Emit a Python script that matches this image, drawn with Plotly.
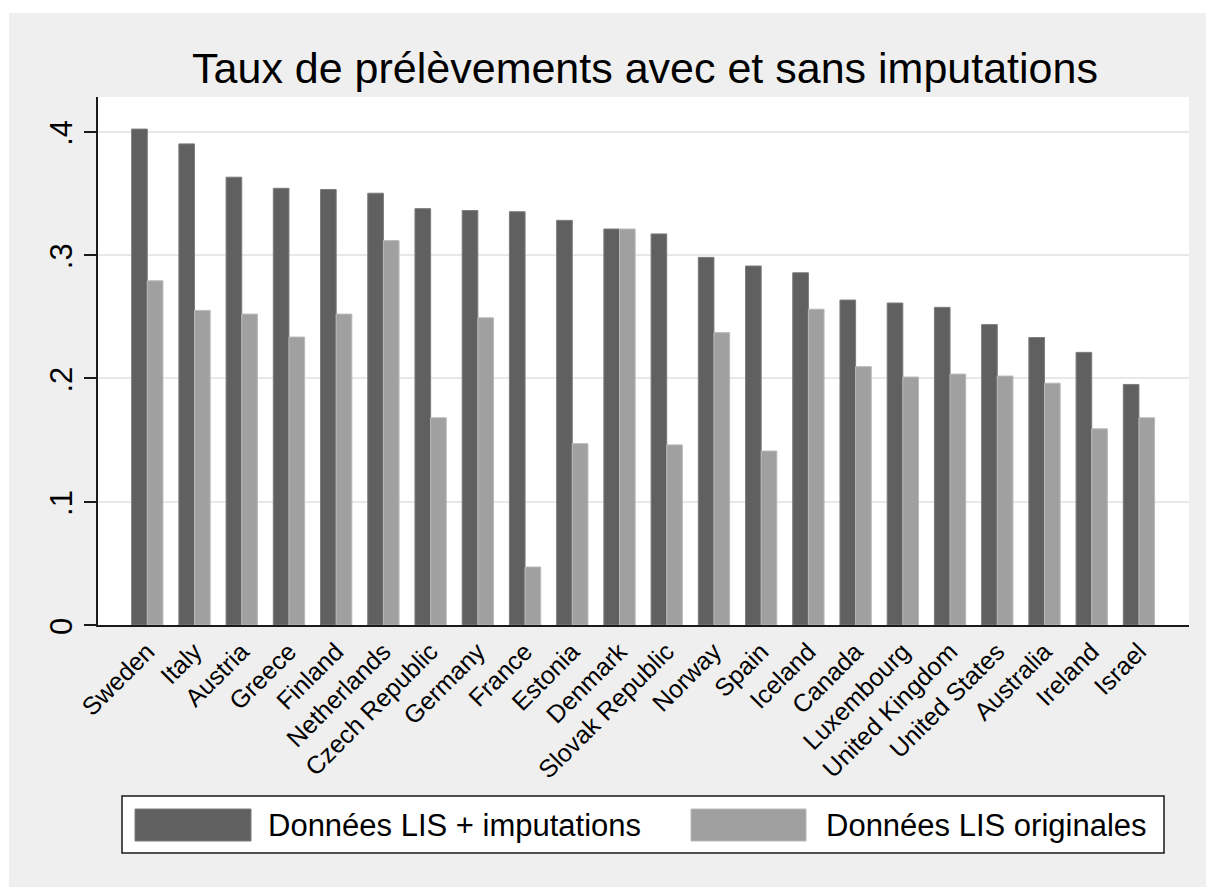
import plotly.graph_objects as go

# Tax rates by country, with and without imputations
countries = ["Sweden", "Italy", "Austria", "Greece", "Finland", "Netherlands",
             "Czech Republic", "Germany", "France", "Estonia", "Denmark",
             "Slovak Republic", "Norway", "Spain", "Iceland", "Canada",
             "Luxembourg", "United Kingdom", "United States", "Australia",
             "Ireland", "Israel"]
with_imputations = [0.402, 0.390, 0.363, 0.354, 0.353, 0.350, 0.3375, 0.336,
                    0.335, 0.328, 0.321, 0.317, 0.298, 0.291, 0.2855, 0.2634,
                    0.261, 0.2575, 0.2435, 0.233, 0.221, 0.195]
original = [0.279, 0.255, 0.252, 0.2334, 0.252, 0.3116, 0.168, 0.249, 0.047,
            0.147, 0.321, 0.146, 0.237, 0.141, 0.256, 0.2094, 0.201, 0.2034,
            0.2018, 0.196, 0.159, 0.168]
series_names = ["Données LIS + imputations", "Données LIS originales"]
y_ticks = [0, 0.1, 0.2, 0.3, 0.4]
y_tick_labels = ["0", ".1", ".2", ".3", ".4"]
title_text = "Taux de prélèvements avec et sans imputations"

DARK = "#606060"
LIGHT = "#a0a0a0"
BG = "#efefef"
FONT = "Liberation Sans, Arial, sans-serif"

W, H = 1206, 887
L, R, T, B = 98, 17, 97, 262
PW, PH = W - L - R, H - T - B


def px_x(px):
    return (px - L) / PW


def px_y(py):
    return (H - B - py) / PH


fig = go.Figure()
fig.add_trace(go.Bar(x=countries, y=with_imputations, name=series_names[0],
                     marker=dict(color=DARK, line=dict(color="#7c7c7c", width=1))))
fig.add_trace(go.Bar(x=countries, y=original, name=series_names[1],
                     marker=dict(color=LIGHT, line=dict(color="#b9b9b9", width=1))))

shapes = [
    # white page edge around the graph region
    dict(type="rect", xref="paper", yref="paper", layer="below",
         x0=px_x(0), x1=px_x(9), y0=px_y(H), y1=px_y(0),
         fillcolor="white", line=dict(width=0)),
    dict(type="rect", xref="paper", yref="paper", layer="below",
         x0=px_x(0), x1=px_x(W), y0=px_y(13), y1=px_y(0),
         fillcolor="white", line=dict(width=0)),
    # legend box
    dict(type="rect", xref="paper", yref="paper",
         x0=px_x(122), x1=px_x(1164), y0=px_y(853), y1=px_y(796),
         fillcolor="white", line=dict(color="#1a1a1a", width=1.5)),
    dict(type="rect", xref="paper", yref="paper",
         x0=px_x(135), x1=px_x(251), y0=px_y(841), y1=px_y(809),
         fillcolor=DARK, line=dict(color="#7c7c7c", width=1)),
    dict(type="rect", xref="paper", yref="paper",
         x0=px_x(691), x1=px_x(806), y0=px_y(841), y1=px_y(809),
         fillcolor=LIGHT, line=dict(color="#b9b9b9", width=1)),
]

annotations = [
    dict(xref="paper", yref="paper", x=px_x(266), y=px_y(825),
         xanchor="left", yanchor="middle", showarrow=False,
         text=series_names[0], font=dict(family=FONT, size=31, color="black")),
    dict(xref="paper", yref="paper", x=px_x(824), y=px_y(825),
         xanchor="left", yanchor="middle", showarrow=False,
         text=series_names[1], font=dict(family=FONT, size=31, color="black")),
]

fig.update_layout(
    width=W, height=H,
    margin=dict(l=L, r=R, t=T, b=B),
    paper_bgcolor=BG, plot_bgcolor="white",
    barmode="group", bargap=0.337, bargroupgap=0,
    showlegend=False,
    title=dict(text=title_text, x=(645) / W, xanchor="center",
               y=1 - 68 / H, yanchor="middle", yref="container",
               font=dict(family=FONT, size=43, color="black")),
    shapes=shapes,
    annotations=annotations,
    font=dict(family=FONT, color="black"),
)
fig.update_xaxes(
    range=[-1.044, 22.06], tickangle=-45, showgrid=False,
    showline=True, linecolor="#1a1a1a", linewidth=2, ticks="",
    tickfont=dict(family=FONT, size=25, color="black"),
)
fig.update_yaxes(
    range=[0, 0.428], tickvals=y_ticks, ticktext=y_tick_labels,
    tickangle=-90, ticklabelshift=6, showgrid=True, gridcolor="#e8e8e8",
    gridwidth=2, zeroline=False, showline=True, linecolor="#1a1a1a",
    linewidth=2, ticks="outside", ticklen=12, tickwidth=1.5,
    tickcolor="#1a1a1a",
    tickfont=dict(family=FONT, size=31, color="black"),
)

fig.write_html("out.html")
